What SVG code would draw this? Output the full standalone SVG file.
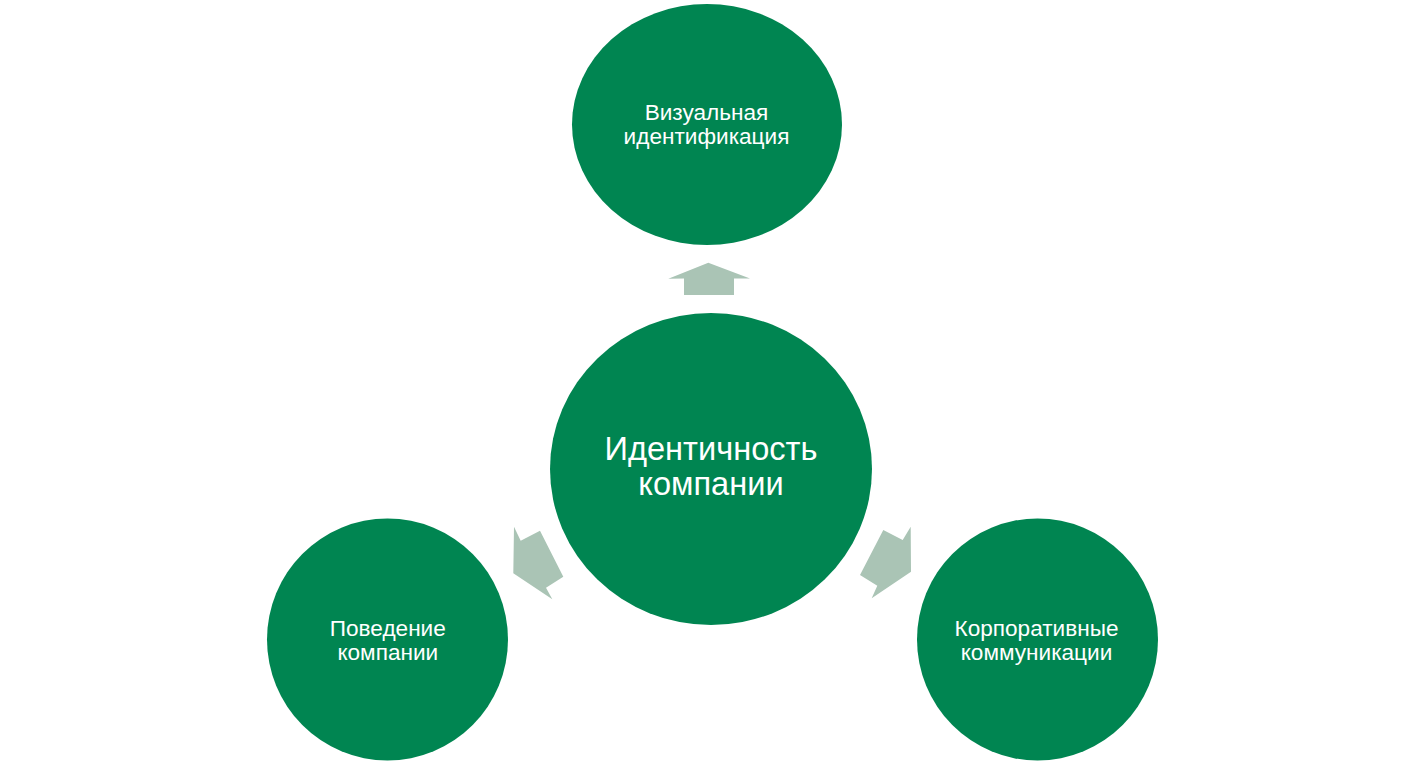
<svg xmlns="http://www.w3.org/2000/svg" width="1423" height="765" viewBox="0 0 1423 765">
<style>
.node{fill:#008551;}
.arrow{fill:#aac4b5;}
.t{font-family:"Liberation Sans",Arial,sans-serif;fill:#ffffff;text-anchor:middle;}
.s{font-size:22.6px;}
.b{font-size:32.6px;}
</style>
<rect width="1423" height="765" fill="#ffffff"/>
<g id="connectors">
<polygon class="arrow" points="708.3,262.7 750,278.5 734,278.5 734,295 684,295 684,278.5 668.3,278.8"/>
<polygon class="arrow" points="514,526.7 520.7,540.7 540,530.7 563.3,576.7 546,587.7 552.3,599.3 513.3,573.3"/>
<polygon class="arrow" points="910.7,526.7 911,571.7 871.7,598.3 877.3,585.7 860,575 883.3,530 902.7,540"/>
</g>
<g id="node-top">
<ellipse class="node" cx="707" cy="124.5" rx="135" ry="120.5"/>
<text class="t s" x="706.5" y="120">Визуальная</text>
<text class="t s" x="706.5" y="143.5">идентификация</text>
</g>
<g id="node-center">
<ellipse class="node" cx="711" cy="469" rx="161" ry="156"/>
<text class="t b" x="711" y="460">Идентичность</text>
<text class="t b" x="711" y="495">компании</text>
</g>
<g id="node-left">
<ellipse class="node" cx="387.5" cy="639.5" rx="120.5" ry="121"/>
<text class="t s" x="387.8" y="636">Поведение</text>
<text class="t s" x="387.8" y="660">компании</text>
</g>
<g id="node-right">
<ellipse class="node" cx="1037.5" cy="639.5" rx="120.5" ry="121"/>
<text class="t s" x="1036.5" y="636">Корпоративные</text>
<text class="t s" x="1036.5" y="660">коммуникации</text>
</g>
</svg>
